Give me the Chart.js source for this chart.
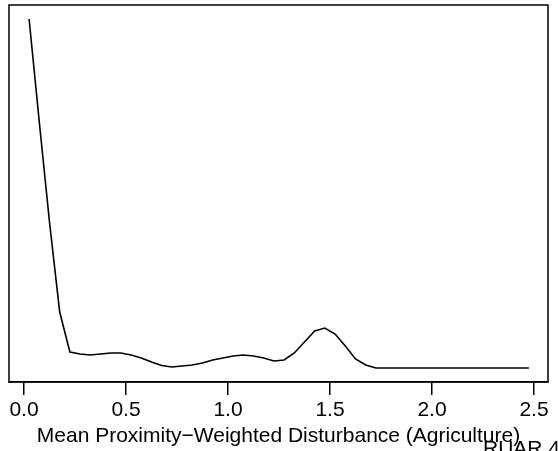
<!DOCTYPE html>
<html>
<head>
<meta charset="utf-8">
<script src="https://cdn.jsdelivr.net/npm/chart.js@4"></script>
<style>
  html, body { margin: 0; padding: 0; background: #fff; }
  canvas { display: block; }
</style>
</head>
<body>
<canvas id="chart" width="558" height="451"></canvas>
<script>
// pontos da curva de densidade
const xValues = [0.025, 0.075, 0.125, 0.175, 0.225, 0.275, 0.325, 0.375, 0.425, 0.475,
                 0.525, 0.575, 0.625, 0.675, 0.725, 0.775, 0.825, 0.875, 0.925, 0.975,
                 1.025, 1.075, 1.125, 1.175, 1.225, 1.275, 1.325, 1.375, 1.425, 1.475,
                 1.525, 1.575, 1.625, 1.675, 1.725, 1.775, 1.825, 1.875, 1.925, 1.975,
                 2.025, 2.075, 2.125, 2.175, 2.225, 2.275, 2.325, 2.375, 2.425, 2.475];
const density = [3.49, 2.46, 1.46, 0.56, 0.16, 0.14, 0.13, 0.14, 0.15, 0.15,
                 0.13, 0.10, 0.06, 0.025, 0.01, 0.02, 0.03, 0.05, 0.08, 0.10,
                 0.12, 0.13, 0.12, 0.10, 0.07, 0.08, 0.15, 0.26, 0.37, 0.40,
                 0.34, 0.22, 0.09, 0.03, 0, 0, 0, 0, 0, 0,
                 0, 0, 0, 0, 0, 0, 0, 0, 0, 0];
const xTicks = [0, 0.5, 1.0, 1.5, 2.0, 2.5];
const xTitle = 'Mean Proximity\u2212Weighted Disturbance (Agriculture)';
const cornerLabel = 'RUAR 4';

const fontFamily = '"Liberation Sans", Arial, Helvetica, sans-serif';

// caixa em volta da área do gráfico + texto do canto
const boxPlugin = {
    id: 'box',
    afterDraw(chart) {
        const { ctx, chartArea } = chart;
        ctx.save();
        ctx.strokeStyle = '#000';
        ctx.lineWidth = 1.5;
        ctx.strokeRect(chartArea.left, chartArea.top,
                       chartArea.right - chartArea.left, chartArea.bottom - chartArea.top);
        ctx.fillStyle = '#000';
        ctx.font = '21px ' + fontFamily;
        ctx.textBaseline = 'alphabetic';
        ctx.fillText(cornerLabel, 483, 455);
        ctx.restore();
    }
};

const ctx = document.getElementById('chart').getContext('2d');
new Chart(ctx, {
    type: 'line',
    data: {
        datasets: [{
            data: xValues.map((x, i) => ({ x: x, y: density[i] })),
            borderColor: '#000',
            borderWidth: 1.6,
            pointRadius: 0,
            tension: 0,
            fill: false
        }]
    },
    options: {
        responsive: false,
        animation: false,
        devicePixelRatio: 1,
        layout: { padding: { left: 9, right: 10, top: 5, bottom: 0 } },
        plugins: {
            legend: { display: false },
            tooltip: { enabled: false }
        },
        scales: {
            x: {
                type: 'linear',
                min: -0.0735,
                max: 2.5686,
                afterBuildTicks: (scale) => {
                    scale.ticks = xTicks.map(v => ({ value: v }));
                },
                afterFit: (scale) => { scale.height = 69; },
                grid: {
                    display: true,
                    drawOnChartArea: false,
                    drawTicks: true,
                    tickLength: 13,
                    color: '#000',
                    lineWidth: 1.5
                },
                border: { display: true, color: '#000', width: 1.5 },
                ticks: {
                    color: '#000',
                    padding: 3,
                    maxRotation: 0,
                    autoSkip: false,
                    font: { family: fontFamily, size: 21 },
                    callback: (v) => Number(v).toFixed(1)
                },
                title: {
                    display: true,
                    text: xTitle,
                    color: '#000',
                    font: { family: fontFamily, size: 21 },
                    padding: { top: 0, bottom: 2 }
                }
            },
            y: {
                display: false,
                min: -0.14,
                max: 3.63
            }
        }
    },
    plugins: [boxPlugin]
});
</script>
</body>
</html>
